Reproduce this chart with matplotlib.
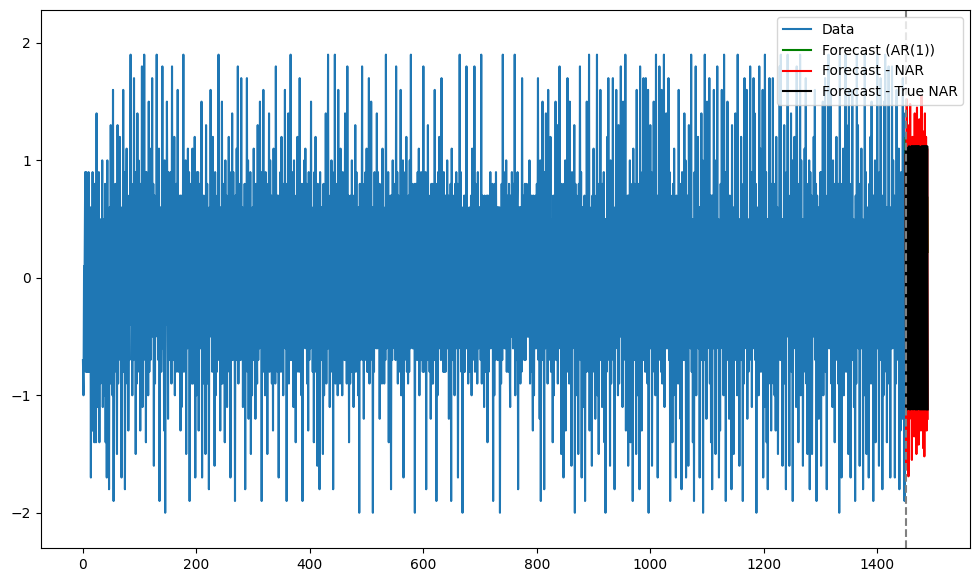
import numpy as np
import matplotlib
matplotlib.use('Agg')
import matplotlib.pyplot as plt

# observed series, in tenths
data_tenths = """
-7 -10 1 1 9 -8 9 -8 7 -8 9 -8 -2 6 -17 3 -13 9 -13 8 -14 8 7 -14 14 -11 4 -11 9 -14 5 -9 2 -7 10 -11 -3 5 -10 8 -14 6 -17 10 -15 4 -18 6 -9 13
-5 7 -10 16 -19 6 -8 8 -2 -6 -15 13 -9 8 -4 12 -7 3 -17 6 -6 16 -8 9 -18 -2 5 11 -9 7 -13 -2 -7 6 19 -4 8 -10 5 -7 17 -6 9 -15 6 -9 14 -6 10 -8
7 -13 8 -4 18 -11 5 -7 19 -3 9 -14 9 -6 5 -10 15 -8 4 -7 11 -2 17 -5 8 -16 7 -9 6 -3 19 -5 6 -7 11 -19 4 6 -8 -1 18 -6 6 -13 10 -20 7 -4 15 2
-12 9 -7 5 -6 9 -9 18 -5 8 -7 12 -10 6 -8 8 -3 16 -8 6 -6 7 -13 7 -11 6 1 19 -8 9 -4 10 -15 7 -6 11 -2 9 -19 8 -7 4 -9 11 -9 6 -5 12 -17 6
-10 9 -3 9 -13 8 -6 6 -6 15 -17 5 -9 7 -6 5 -15 13 -7 8 -9 4 -18 6 -5 16 -4 7 -8 12 -6 5 -16 9 -10 4 -8 7 -7 19 -6 4 -13 6 -9 15 -9 8 -6 7
-14 10 -6 7 -11 6 -5 12 -8 9 -17 6 -3 14 -7 9 -5 6 -19 7 -7 11 -3 18 -9 5 -6 8 -7 17 -4 6 -11 5 -6 8 -18 7 -4 17 -8 10 -12 6 -8 9 -15 4 -10 6
-7 11 -6 7 -12 8 -4 -9 13 -7 8 -6 15 -5 9 -19 6 -2 16 -8 5 -10 9 -7 8 -15 7 -6 14 -8 10 -5 7 -9 6 -13 11 -6 6 -9 18 -4 7 -8 7 -17 5 -6 9 -8
12 -6 8 -10 8 -5 16 -6 8 -19 5 -8 14 -9 6 -7 19 -7 6 -7 9 -11 10 -8 5 -14 7 -8 12 -6 9 -8 17 -6 7 -10 8 -19 7 -6 10 -5 11 -6 8 -9 5 -13 9 -7
8 -6 15 -5 5 -8 6 -14 9 -8 12 -7 7 -16 8 -9 6 -18 9 -7 6 -7 6 -15 8 -10 4 -8 14 -9 7 -6 19 -6 5 -11 7 -8 10 -5 9 -18 6 -7 19 -9 8 -6 7 -10
16 -8 6 -9 11 -6 8 -10 9 -5 8 -7 14 -7 6 -9 18 -5 7 -14 5 -9 7 -8 10 -4 7 -11 5 -6 13 -8 9 -7 5 -10 6 -20 8 -7 6 -5 18 -7 6 -12 8 -7 9 -6
11 -8 7 -8 17 -9 6 -7 15 -5 6 -20 6 -8 9 -5 8 -6 14 -6 9 -5 8 -12 7 -6 8 -9 11 -4 6 -9 5 -7 19 -6 8 -5 9 -14 6 -9 7 -18 7 -7 10 -5 6 -6
8 -7 18 -6 9 -9 7 -8 6 -5 16 -10 5 -9 10 -17 7 -7 9 -4 12 -8 5 -9 7 -8 10 -6 19 -5 8 -6 7 -6 8 -20 8 -6 8 -7 9 -5 11 -10 6 -7 9 -7 6 -8
18 -8 6 -5 9 -18 7 -7 13 -6 5 -8 7 -12 8 -9 8 -9 6 -7 16 -6 5 -19 8 -10 9 -5 12 -6 9 -7 17 -5 7 -8 9 -8 7 -8 7 -5 10 -6 7 -12 5 -9 8 -19
11 -7 6 -7 7 -10 8 -5 9 -6 8 -17 6 -5 19 -6 9 -8 6 -20 5 -8 7 -8 7 -6 18 -6 6 -9 5 -8 6 -7 7 -10 11 -7 8 -5 18 -8 8 -7 7 -9 9 -6 6 -5
6 -7 19 -9 7 -7 5 -11 7 -8 5 -8 7 -14 7 -8 5 -6 9 -6 6 -5 8 -19 5 -10 8 -7 9 -5 6 -7 6 -7 6 -20 5 -9 8 -7 19 -5 9 -6 7 -6 10 -8 7 -6
-8 8 -6 -11 7 -5 9 3 -6 8 -6 19 -10 7 -7 5 9 -18 6 -4 6 -9 6 -8 17 -6 -3 7 -7 8 -7 8 -5 6 -5 8 -5 10 -9 6 -8 7 -5 -13 7 -10 5 -6 7 -6
8 -4 17 -7 5 -12 10 -19 7 -5 15 -7 4 -18 9 -6 14 -5 7 -9 16 -7 8 -6 12 -8 5 4 -14 7 -10 5 -6 15 -7 -7 13 -9 9 -6 18 -4 6 -15 8 -11 7 -17 8 -8
10 -13 6 -7 17 -8 6 -9 15 -4 8 -16 9 -6 5 -4 13 -20 8 -10 7 -5 6 -15 8 -6 18 -7 9 -17 6 -7 6 -11 7 -19 5 -8 15 -4 10 -8 19 -13 5 -9 6 -16 7 -6
11 -8 7 -12 4 -7 19 -10 8 -15 6 -6 16 -7 7 -11 8 -4 9 -14 5 -20 5 -8 12 -7 17 -5 8 -16 10 -9 9 -6 17 -7 4 -18 6 -6 16 -5 7 -10 13 -9 8 -5 18 -4
5 -11 15 -7 9 -6 19 -13 6 -4 7 -16 7 -9 10 -14 6 -6 8 -19 11 -6 8 -7 5 -15 16 -10 7 -5 8 -18 18 -5 4 -13 9 -7 17 -7 6 -8 17 -4 6 -9 16 -20 10 -6
13 -6 9 -16 8 -4 15 -8 5 -10 19 -7 7 -17 5 -7 18 -5 6 -8 16 -9 6 -5 19 -11 6 -6 14 -6 10 -6 17 -7 9 -19 7 -8 4 -14 8 -10 11 -5 5 -17 7 -7 5 -9
16 -5 6 -12 8 -18 9 -5 6 -7 14 -7 10 -17 7 -9 7 -16 13 -4 5 -6 19 -8 5 -14 5 -19 9 -5 18 -10 7 -5 12 -6 6 -17 6 -5 14 -7 10 -20 8 -7 19 -7 4 -12
15 -6 5 -5 17 -9 7 -14 7 -18 7 -6 16 -6 10 -15 9 -6 18 -5 5 -17 4 -13 8 -4 16 -6 6 -10 19 -8 9 -19 5 -7 15 -4 6 -12 7 -7 6 -18 13 -9 6 -15 4 -5
14 -7 8 -10 19 -7 4 -16 5 -6 12 -7 5 -19 8 -9 17 -4 7 -6 16 -12 5 -8 4 -7 18 -5 9 -11 7 -6 17 -4 14 -7 8 -20 6 -6 5 -10 18 -5 11 -8 6 -6 16 -17
7 -11 19 -5 9 -14 5 -18 4 -9 17 -6 4 -13 8 -6 17 -9 8 -10 6 -13 12 -7 6 -15 5 -5 18 -7 19 -6 5 -16 5 -8 13 -9 7 -18 9 -5 19 -4 7 -16 6 -7 14 -8
10 -19 6 -6 12 -5 7 -11 18 -6 8 -14 7 -7 19 -10 10 -7 5 -16 5 -6 11 -8 17 -9 8 -15 4 -7 10 -18 9 -7 7 -15 6 -5 12 -4 16 -7 8 -19 7 -4 6 -12 5 -6
9 -16 9 -7 15 -10 4 -6 17 -8 5 -18 7 -5 19 -6 7 -6 16 -9 7 -11 10 -4 8 -14 6 -7 12 -5 5 -9 8 -20 19 -7 4 -17 8 -6 11 -10 7 -7 19 -8 13 -6 6 -15
16 -8 6 -17 8 -5 16 -7 5 -11 4 -19 7 -9 19 -4 13 -6 8 -16 7 -6 11 -6 5 -18 4 -10 19 -4 9 -15 6 -7 5 -17 8 -7 12 -9 15 -7 7 -19 7 -5 10 -14 4 -6
19 -6 5 -16 9 -7 17 -6 5 -18 7 -10 15 -8 19 -5 6 -14 6 -9 18 -5 4 -17 6 -6 18 -6 10 -5 7 -17 5 -9 16 -4 9 -7 11 -18 6 -13 9 -5 -12 17 -6 14 -19 8
"""
data = np.array([int(v) for v in data_tenths.split()]) / 10.0

# forecasts over the held-out stretch
fc_ar1 = [1.19, -1.48, 1.05, -1.00, 0.95, -0.95, 1.00, -1.05, 0.90, -0.85,
          1.00, -0.95, 0.90, -1.00, 0.85, -0.90, 1.05, -1.00, 0.95, -0.90,
          1.00, -0.95, 0.90, -1.00, 1.05, -0.90, 0.95, -1.00, 0.90, -0.95,
          1.00, -0.90, 0.95, -1.05, 1.00, -0.95, 0.90, -0.80, 0.69, 0.22]
fc_nar = [1.05, -1.60, 1.52, -1.10, 0.95, -1.69, 1.30, -1.20, 1.48, -1.05,
          1.10, -1.55, 1.20, -1.15, 0.90, -1.35, 1.40, -1.25, 1.00, -1.50,
          1.45, -1.10, 1.15, -1.42, 1.35, -1.20, 0.98, -1.30, 1.55, -1.15,
          1.25, -1.45, 1.05, -1.52, 1.40, -1.12, 1.20, -1.30, 1.10, -1.20]
fc_true = [1.08, -1.10, 1.11, -1.12, 1.10, -1.11, 1.12, -1.12, 1.09, -1.12,
           1.12, -1.10, 1.12, -1.12, 1.12, -0.55, 1.12, -1.12, 1.12, -1.12,
           1.12, -1.12, 1.12, -1.11, 1.12, -1.12, 0.70, -1.12, 1.12, -1.12,
           1.12, -1.12, 1.12, -1.12, 1.12, -1.12, 1.12, -1.12, 1.12, -1.12]

n = len(data)
t = np.arange(n)
tf = np.arange(n, n + len(fc_true))

fig = plt.figure(figsize=(9.8, 5.82), dpi=100)
ax = fig.add_axes([40.7 / 980, 34 / 582, 929.3 / 980, 538 / 582])
ax.plot(t, data, label='Data')
ax.plot(tf, fc_ar1, color='green', label='Forecast (AR(1))')
ax.plot(tf, fc_nar, color='red', label='Forecast - NAR')
ax.plot(tf, fc_true, color='black', label='Forecast - True NAR')
ax.axvline(n, color='gray', linestyle='--')
ax.set_ylim(-2.3, 2.28)
ax.set_yticks([-2, -1, 0, 1, 2])
ax.legend(loc='upper right')
fig.savefig('out.png')
